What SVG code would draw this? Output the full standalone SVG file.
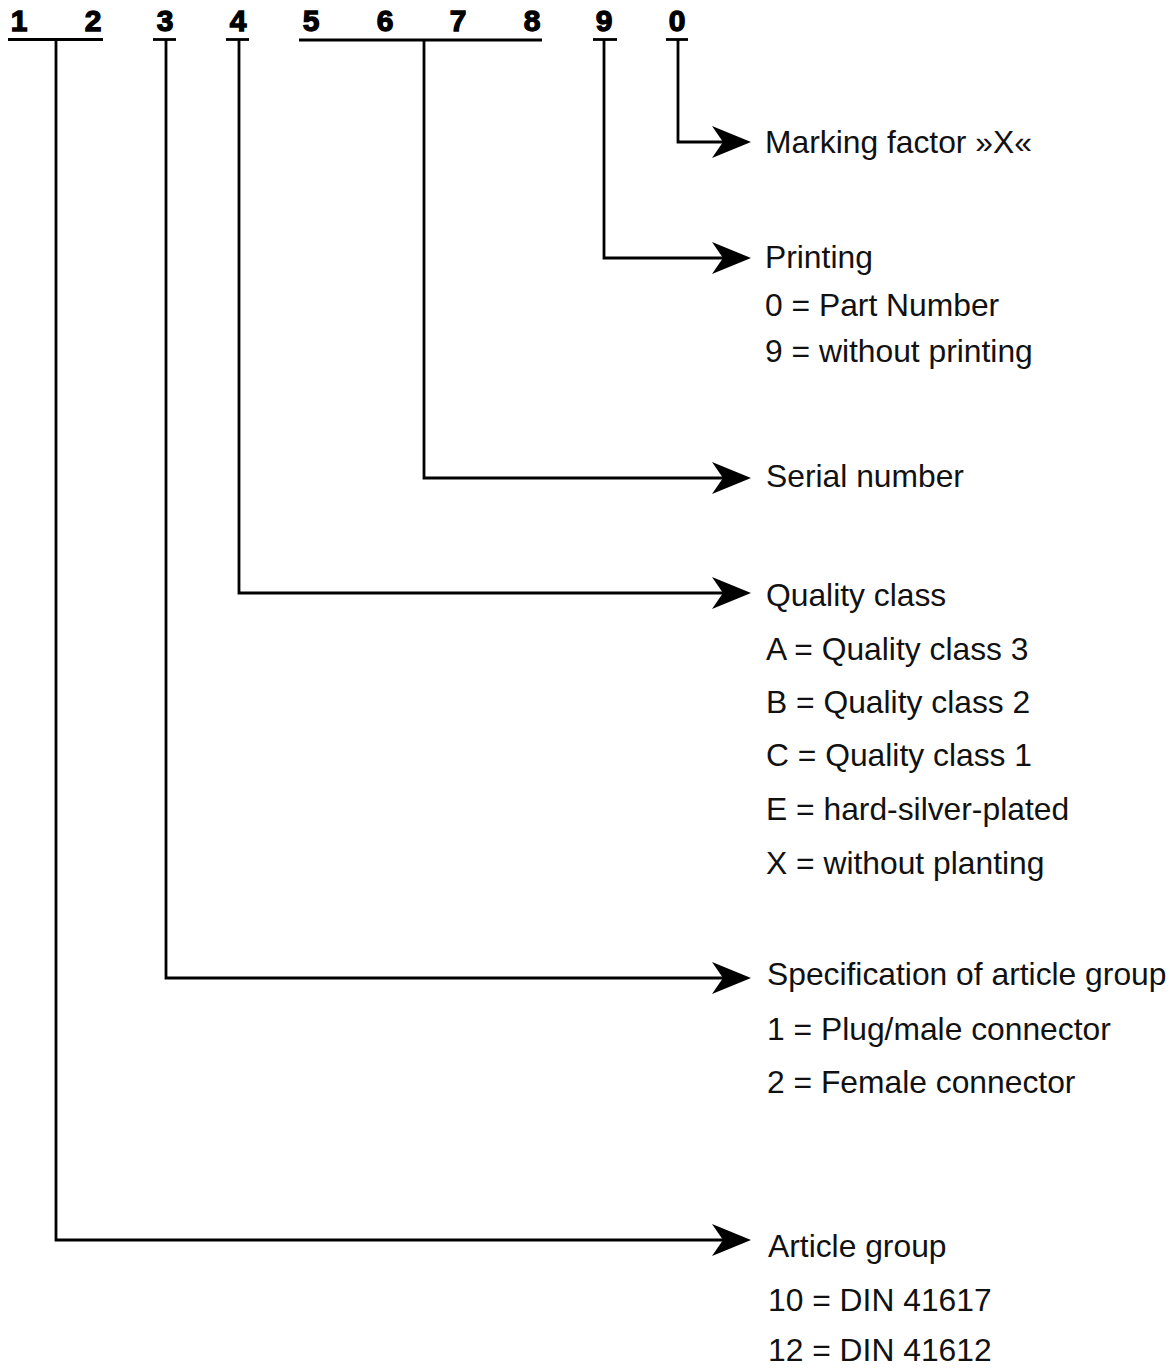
<svg xmlns="http://www.w3.org/2000/svg" width="1171" height="1368" viewBox="0 0 1171 1368">
<style>
.d{font-family:"Liberation Sans",Arial,sans-serif;font-weight:bold;font-size:30px;fill:#000;stroke:#000;stroke-width:1.3;text-anchor:middle}
.t{font-family:"Liberation Sans",Arial,sans-serif;font-size:31.8px;fill:#111}
.u{stroke:#000;stroke-width:2.8;fill:none}
.c{stroke:#000;stroke-width:2.8;fill:none;marker-end:url(#ah)}
</style>
<defs>
<marker id="ah" markerUnits="userSpaceOnUse" markerWidth="40" markerHeight="34" refX="13" refY="16" orient="auto" overflow="visible">
<path d="M0,0 L39,16 L0,32 L11,16 Z" fill="#000"/>
</marker>
</defs>
<rect width="1171" height="1368" fill="#fff"/>
<g id="digit-1-2">
<text class="d" x="19" y="31">1</text>
<text class="d" x="93" y="31">2</text>
<line class="u" x1="8" y1="39.5" x2="103" y2="39.5"/>
</g>
<g id="digit-3">
<text class="d" x="165" y="31">3</text>
<line class="u" x1="153" y1="39.5" x2="176" y2="39.5"/>
</g>
<g id="digit-4">
<text class="d" x="238" y="31">4</text>
<line class="u" x1="226" y1="39.5" x2="249" y2="39.5"/>
</g>
<g id="digit-5-8">
<text class="d" x="311" y="31">5</text>
<text class="d" x="385" y="31">6</text>
<text class="d" x="458" y="31">7</text>
<text class="d" x="532" y="31">8</text>
<line class="u" x1="299" y1="40" x2="542" y2="40"/>
</g>
<g id="digit-9">
<text class="d" x="604" y="31">9</text>
<line class="u" x1="593" y1="39.5" x2="617" y2="39.5"/>
</g>
<g id="digit-0">
<text class="d" x="677" y="31">0</text>
<line class="u" x1="666" y1="39.5" x2="688" y2="39.5"/>
</g>
<g id="connectors">
<path class="c" d="M678,40 V142 H725"/>
<path class="c" d="M604,40 V258 H725"/>
<path class="c" d="M424,40 V478 H725"/>
<path class="c" d="M239,40 V593 H725"/>
<path class="c" d="M166,40 V978 H725"/>
<path class="c" d="M56,40 V1240 H725"/>
</g>
<g id="label-marking">
<text class="t" x="765" y="153">Marking factor  »X«</text>
</g>
<g id="label-printing">
<text class="t" x="765" y="268">Printing</text>
<text class="t" x="765" y="316">0 = Part Number</text>
<text class="t" x="765" y="362">9 = without printing</text>
</g>
<g id="label-serial">
<text class="t" x="766" y="487">Serial number</text>
</g>
<g id="label-quality">
<text class="t" x="766" y="606">Quality class</text>
<text class="t" x="766" y="660">A = Quality class 3</text>
<text class="t" x="766" y="713">B = Quality class 2</text>
<text class="t" x="766" y="766">C = Quality class 1</text>
<text class="t" x="766" y="820">E = hard-silver-plated</text>
<text class="t" x="766" y="874">X = without planting</text>
</g>
<g id="label-specification">
<text class="t" x="767" y="985">Specification of article group</text>
<text class="t" x="767" y="1040">1 = Plug/male connector</text>
<text class="t" x="767" y="1093">2 = Female connector</text>
</g>
<g id="label-article">
<text class="t" x="768" y="1257">Article group</text>
<text class="t" x="768" y="1311">10 = DIN 41617</text>
<text class="t" x="768" y="1361">12 = DIN 41612</text>
</g>
</svg>
